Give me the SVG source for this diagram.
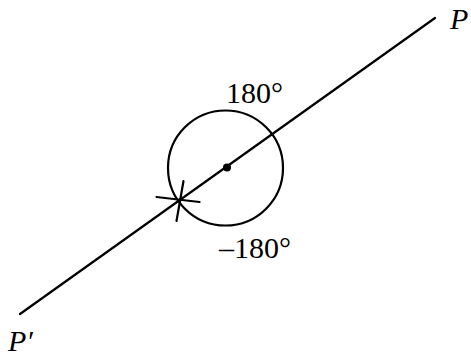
<svg xmlns="http://www.w3.org/2000/svg" width="471" height="356" viewBox="0 0 471 356">
<style>
.ln{stroke:#000;stroke-width:2.2;fill:none;stroke-linecap:round}
.t{font-family:"Liberation Serif","Times New Roman",serif;font-size:30px;fill:#000}
.it{font-style:italic}
</style>
<rect width="471" height="356" fill="#fff"/>
<g id="connectors">
<line class="ln" x1="435" y1="18" x2="20" y2="314"/>
</g>
<g id="circle">
<circle class="ln" cx="225.5" cy="168" r="57.5"/>
<circle cx="227" cy="167.5" r="4" fill="#000"/>
</g>
<g id="star">
<line class="ln" x1="183.5" y1="181" x2="176.5" y2="221"/>
<line class="ln" x1="156.5" y1="197" x2="199.5" y2="202"/>
</g>
<g id="label-180">
<text class="t" x="226" y="103">180°</text>
</g>
<g id="label-neg180">
<text class="t" x="219" y="258">–180°</text>
</g>
<g id="label-P">
<text class="t it" x="450" y="29">P</text>
</g>
<g id="label-Pprime">
<text class="t it" x="8" y="351">P′</text>
</g>
</svg>
